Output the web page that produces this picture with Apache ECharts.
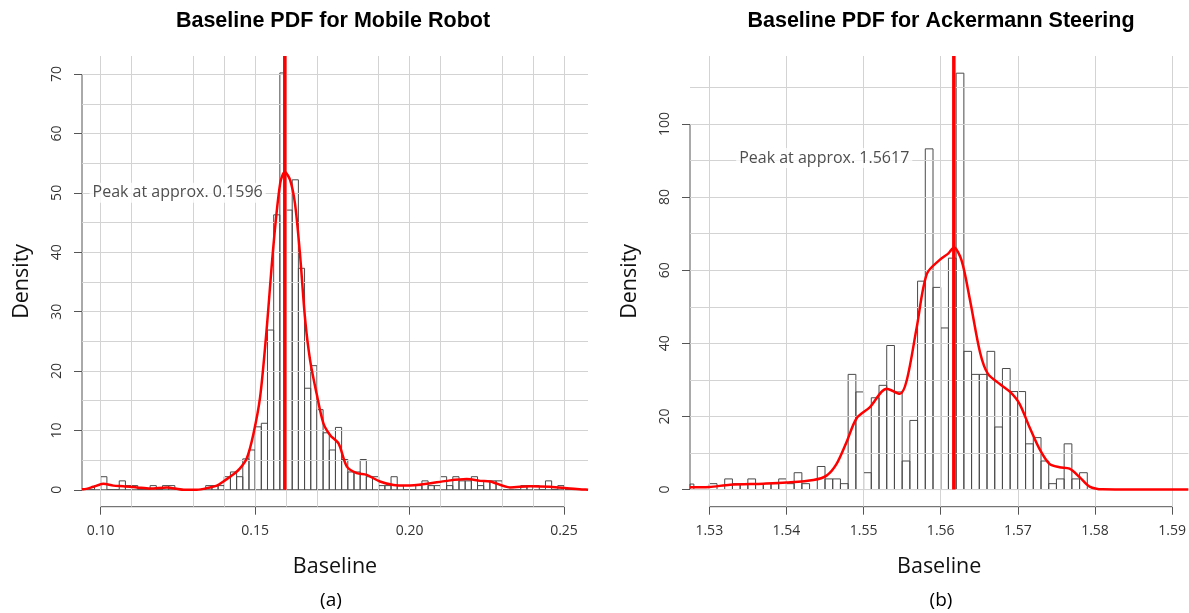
<!DOCTYPE html>
<html><head><meta charset="utf-8">
<script src="https://cdn.jsdelivr.net/npm/echarts@6/dist/echarts.min.js"></script>
<style>html,body{margin:0;padding:0;background:#fff}#c{width:1189px;height:613px}</style>
</head><body><div id="c"></div>
<script>
// ---------- Panel (a): Mobile Robot ----------
const titleA = 'Baseline PDF for Mobile Robot';
const binWidthA = 0.002;
const binStartA = [0.094,0.096,0.098,0.100,0.102,0.104,0.106,0.108,0.110,0.112,0.114,0.116,0.118,0.120,0.122,0.124,0.126,0.128,0.130,0.132,0.134,0.136,0.138,0.140,0.142,0.144,0.146,0.148,0.150,0.152,0.154,0.156,0.158,0.160,0.162,0.164,0.166,0.168,0.170,0.172,0.174,0.176,0.178,0.180,0.182,0.184,0.186,0.188,0.190,0.192,0.194,0.196,0.198,0.200,0.202,0.204,0.206,0.208,0.210,0.212,0.214,0.216,0.218,0.220,0.222,0.224,0.226,0.228,0.230,0.232,0.234,0.236,0.238,0.240,0.242,0.244,0.246,0.248,0.250,0.252,0.254];
const densA     = [0,0,0.7,2.2,0,0,1.5,0.7,0.7,0,0,0.7,0,0.7,0.7,0,0,0,0,0,0.7,0.7,0.7,2.2,3.0,2.2,5.2,6.7,10.6,11.2,26.9,46.3,70.2,47.1,52.2,37.3,17.1,20.9,13.5,9.6,6.7,10.5,5.1,3.0,3.0,5.1,2.2,2.2,0.7,0.7,2.2,0.7,0,0,0.7,1.5,0.7,0.7,2.2,0.7,2.2,1.5,1.5,2.2,0.7,1.5,1.5,1.5,0,0,0,0.7,0.7,0.7,0,1.5,0,0.7,0,0,0];
const kdeXA = [0.0939,0.0944,0.0976,0.1008,0.1041,0.1073,0.1117,0.1160,0.1214,0.1268,0.1311,0.1354,0.1376,0.1397,0.1430,0.1451,0.1473,0.1494,0.1516,0.1537,0.1559,0.1581,0.1596,0.1613,0.1629,0.1645,0.1662,0.1678,0.1699,0.1721,0.1743,0.1770,0.1797,0.1829,0.1861,0.1904,0.1948,0.1991,0.2056,0.2120,0.2185,0.2228,0.2261,0.2325,0.2390,0.2455,0.2520,0.2563,0.2578];
const kdeYA = [0.1,0.1,0.5,1.0,0.7,0.6,0.4,0.2,0.4,0.0,0.0,0.4,0.7,1.4,2.6,3.6,5.3,9.3,15.6,26.9,41.0,51.6,53.5,52.2,48.2,39.8,28.6,21.8,16.2,11.2,9.2,7.8,3.9,2.8,2.5,1.4,0.8,0.7,1.0,1.5,1.8,1.5,1.4,0.4,0.6,0.5,0.2,0.05,0.0];
const peakA = 0.1596;
const peakLabelA = 'Peak at approx. 0.1596';
const labelPosA = [0.1249, 50];
const xTicksA = [0.10, 0.15, 0.20, 0.25];
const yTicksA = [0, 10, 20, 30, 40, 50, 60, 70];
const xGridA = [0.1, 0.1125, 0.125, 0.1375, 0.15, 0.1625, 0.175, 0.1875, 0.2, 0.2125, 0.225, 0.2375, 0.25];
const yGridA = [0, 5, 10, 15, 20, 25, 30, 35, 40, 45, 50, 55, 60, 65, 70];
const xRangeA = [0.09394, 0.25777];
const yRangeA = [-2.85, 73.05];

// ---------- Panel (b): Ackermann Steering ----------
const titleB = 'Baseline PDF for Ackermann Steering';
const binWidthB = 0.001;
const binStartB = [1.527,1.528,1.529,1.530,1.531,1.532,1.533,1.534,1.535,1.536,1.537,1.538,1.539,1.540,1.541,1.542,1.543,1.544,1.545,1.546,1.547,1.548,1.549,1.550,1.551,1.552,1.553,1.554,1.555,1.556,1.557,1.558,1.559,1.560,1.561,1.562,1.563,1.564,1.565,1.566,1.567,1.568,1.569,1.570,1.571,1.572,1.573,1.574,1.575,1.576,1.577,1.578,1.579];
const densB     = [1.5,0,0,1.6,0,2.9,1.6,1.6,2.9,1.6,1.6,1.6,2.9,1.6,4.6,1.6,0,6.3,2.9,2.9,1.6,31.5,26.7,4.6,25.1,28.5,39.4,26.7,7.8,18.9,57.0,93.2,55.3,44.2,63.3,113.9,37.8,31.5,31.5,37.8,17.1,33.1,26.8,26.8,12.5,14.2,7.8,1.6,2.9,12.5,2.9,4.6,0];
const kdeXB = [1.5275,1.5300,1.5327,1.5370,1.5400,1.5435,1.5452,1.5465,1.5478,1.5491,1.5508,1.5530,1.5547,1.5556,1.5569,1.5582,1.5599,1.5610,1.5617,1.5627,1.5638,1.5651,1.5661,1.5677,1.5690,1.5702,1.5715,1.5728,1.5741,1.5754,1.5767,1.5780,1.5793,1.5810,1.5850,1.5921];
const kdeYB = [0.6,0.7,1.3,1.6,1.9,2.6,3.8,7.0,13.0,19.5,22.5,27.6,26.2,29.9,44.5,59.0,62.9,64.6,66.2,62.7,51.8,37.5,31.7,28.8,26.7,23.5,17.1,11.1,7.0,6.1,5.7,3.4,0.8,0.05,0,0];
const peakB = 1.5617;
const peakLabelB = 'Peak at approx. 1.5617';
const labelPosB = [1.5449, 90.7];
const xTicksB = [1.53, 1.54, 1.55, 1.56, 1.57, 1.58, 1.59];
const yTicksB = [0, 20, 40, 60, 80, 100];
const xGridB = [1.53, 1.54, 1.55, 1.56, 1.57, 1.58, 1.59];
const yGridB = [0, 10, 20, 30, 40, 50, 60, 70, 80, 90, 100, 110];
const xRangeB = [1.5275, 1.5921];
const yRangeB = [-4.7, 118.6];

// ---------- styling ----------
const FONT = 'Open Sans';
const AXIS_COLOR = '#555';
const GRID_COLOR = '#d3d3d3';
const RED = '#ff0000';

function histItem(params, api) {
  const p0 = api.coord([api.value(0), 0]);
  const p1 = api.coord([api.value(1), api.value(2)]);
  const rect = {x: p0[0], y: p1[1], width: p1[0] - p0[0], height: p0[1] - p1[1]};
  const cs = params.coordSys;
  const c = echarts.graphic.clipRectByRect(rect, {x: cs.x, y: cs.y, width: cs.width, height: cs.height});
  if (!c) return;
  return {type: 'rect', shape: c, style: {fill: 'none', stroke: '#4a4a4a', lineWidth: 1}};
}

function panel(idx, P) {
  const xAxis = {
    gridIndex: idx, type: 'value', min: P.xr[0], max: P.xr[1],
    axisLine: {show: false, onZero: false},
    axisTick: {show: true, customValues: P.xt, length: 8, lineStyle: {color: AXIS_COLOR}},
    axisLabel: {show: true, customValues: P.xt, margin: 17, fontSize: 14, color: '#333', fontFamily: FONT,
      formatter: v => v.toFixed(2)},
    splitLine: {show: false},
    name: 'Baseline', nameLocation: 'middle', nameGap: 49,
    nameTextStyle: {fontSize: 21.5, color: '#111', fontFamily: FONT}
  };
  const yAxis = {
    gridIndex: idx, type: 'value', min: P.yr[0], max: P.yr[1],
    axisLine: {show: false, onZero: false},
    axisTick: {show: true, customValues: P.yt, length: 8, lineStyle: {color: AXIS_COLOR}},
    axisLabel: {show: true, customValues: P.yt, rotate: 90, margin: 18, fontSize: 14, color: '#333', fontFamily: FONT},
    splitLine: {show: false},
    name: 'Density', nameLocation: 'middle', nameGap: 49,
    nameTextStyle: {fontSize: 21.5, color: '#111', fontFamily: FONT}
  };
  const series = [
    { // grid lines
      type: 'line', xAxisIndex: idx, yAxisIndex: idx, data: [], z: 1, silent: true,
      markLine: {silent: true, symbol: ['none', 'none'], animation: false, label: {show: false},
        lineStyle: {color: GRID_COLOR, width: 1, type: 'solid'}, emphasis: {disabled: true},
        data: P.xg.map(v => ({xAxis: v})).concat(P.yg.map(v => ({yAxis: v})))}
    },
    { // axis lines (span first to last tick)
      type: 'line', xAxisIndex: idx, yAxisIndex: idx, symbol: 'none', clip: false, silent: true, z: 3,
      lineStyle: {color: AXIS_COLOR, width: 1},
      data: [[P.xt[0], P.yr[0]], [P.xt[P.xt.length - 1], P.yr[0]]]
    },
    {
      type: 'line', xAxisIndex: idx, yAxisIndex: idx, symbol: 'none', clip: false, silent: true, z: 3,
      lineStyle: {color: AXIS_COLOR, width: 1},
      data: [[P.xr[0], P.yt[0]], [P.xr[0], P.yt[P.yt.length - 1]]]
    },
    { // histogram
      type: 'custom', xAxisIndex: idx, yAxisIndex: idx, renderItem: histItem, z: 4, silent: true,
      encode: {x: [0, 1], y: 2},
      data: P.bs.map((s, i) => [s, +(s + P.bw).toFixed(4), P.d[i]])
    },
    { // KDE
      type: 'line', xAxisIndex: idx, yAxisIndex: idx, symbol: 'none', smooth: 0.3, z: 6, silent: true,
      lineStyle: {color: RED, width: 2.5},
      data: P.kx.map((x, i) => [x, P.ky[i]])
    },
    { // peak marker
      type: 'line', xAxisIndex: idx, yAxisIndex: idx, symbol: 'none', z: 7, silent: true,
      lineStyle: {color: RED, width: 3.5},
      data: [[P.pk, 0], [P.pk, P.yr[1]]]
    },
    { // annotation
      type: 'scatter', xAxisIndex: idx, yAxisIndex: idx, symbolSize: 0, z: 8, silent: true,
      data: [P.lp],
      label: {show: true, position: 'inside', formatter: P.pl, fontSize: 16, color: '#222', fontFamily: FONT,
        backgroundColor: '#fff', padding: [2, 3]}
    }
  ];
  return {xAxis, yAxis, series};
}

const pa = panel(0, {xr: xRangeA, yr: yRangeA, xt: xTicksA, yt: yTicksA, xg: xGridA, yg: yGridA,
  bs: binStartA, bw: binWidthA, d: densA, kx: kdeXA, ky: kdeYA, pk: peakA, pl: peakLabelA, lp: labelPosA});
const pb = panel(1, {xr: xRangeB, yr: yRangeB, xt: xTicksB, yt: yTicksB, xg: xGridB, yg: yGridB,
  bs: binStartB, bw: binWidthB, d: densB, kx: kdeXB, ky: kdeYB, pk: peakB, pl: peakLabelB, lp: labelPosB});

const chart = echarts.init(document.getElementById('c'), null, {renderer: 'canvas'});
chart.setOption({
  animation: false,
  backgroundColor: '#fff',
  title: [
    {text: titleA, left: 333, top: 10, textAlign: 'center', padding: 0,
      textStyle: {fontSize: 21.5, fontWeight: 'bold', color: '#000', fontFamily: 'Liberation Sans'}},
    {text: titleB, left: 941, top: 10, textAlign: 'center', padding: 0,
      textStyle: {fontSize: 21.5, fontWeight: 'bold', color: '#000', fontFamily: 'Liberation Sans'}}
  ],
  grid: [
    {left: 82, top: 56, width: 506, height: 450.7, containLabel: false},
    {left: 690, top: 56, width: 499, height: 450.7, containLabel: false}
  ],
  xAxis: [pa.xAxis, pb.xAxis],
  yAxis: [pa.yAxis, pb.yAxis],
  series: pa.series.concat(pb.series),
  graphic: [
    {type: 'text', x: 331, y: 601, style: {text: '(a)', align: 'center', verticalAlign: 'middle', fontSize: 19, fill: '#000', fontFamily: FONT}},
    {type: 'text', x: 941, y: 601, style: {text: '(b)', align: 'center', verticalAlign: 'middle', fontSize: 19, fill: '#000', fontFamily: FONT}}
  ]
});
</script></body></html>
